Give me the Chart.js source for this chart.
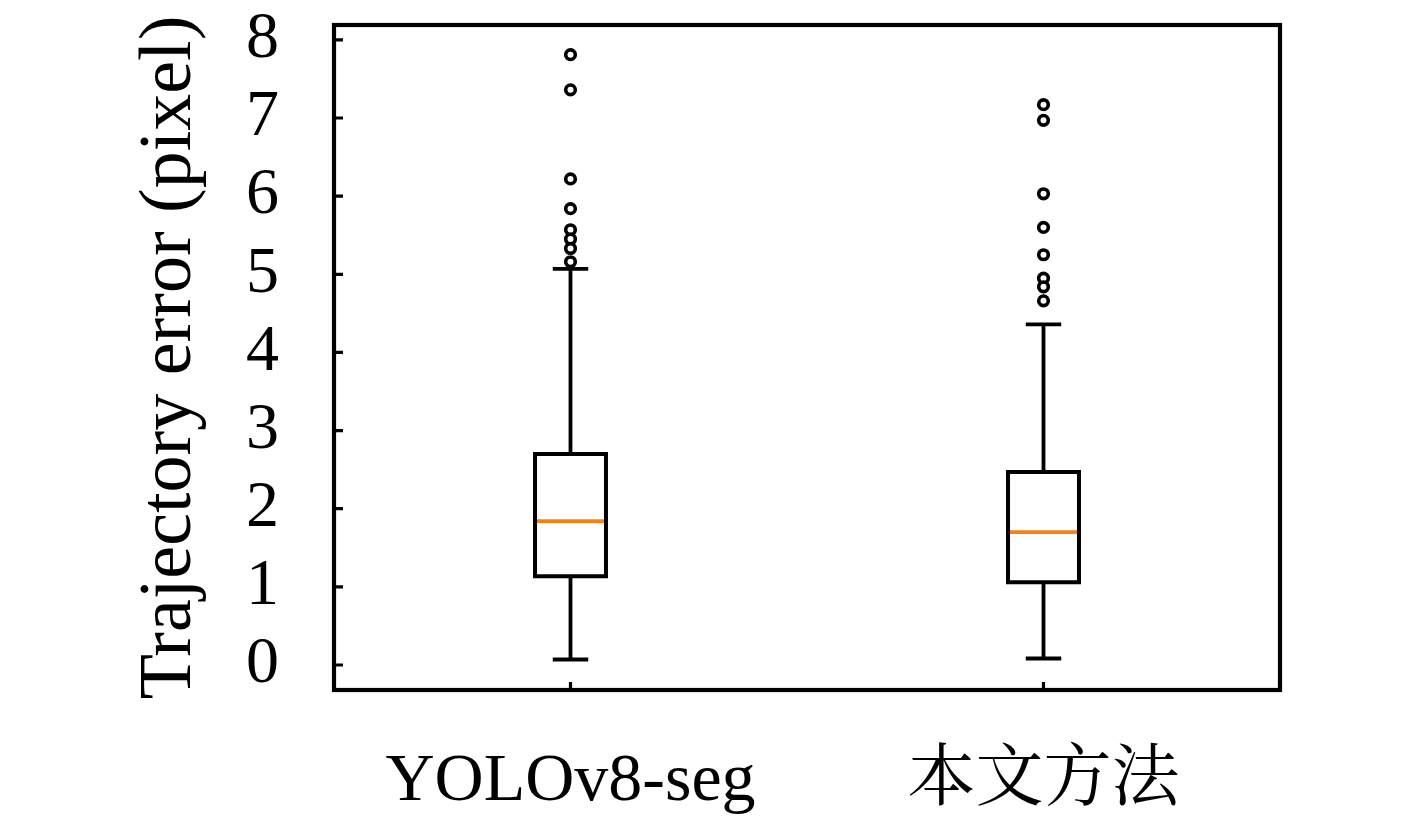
<!DOCTYPE html>
<html><head><meta charset="utf-8">
<script src="https://cdn.jsdelivr.net/npm/chart.js@4.4.0/dist/chart.umd.min.js"></script>
<style>html,body{margin:0;padding:0;background:#fff;} #wrap{width:1417px;height:817px;position:relative;}</style>
</head><body><div id="wrap"><canvas id="c"></canvas></div>
<script>
const categories = ['YOLOv8-seg', '本文方法'];
const whiskerLow = [0.07, 0.083];
const q1 = [1.135, 1.06];
const median = [1.84, 1.70];
const q3 = [2.70, 2.47];
const whiskerHigh = [5.07, 4.36];
const outliersYolo = [7.81, 7.36, 6.22, 5.84, 5.57, 5.45, 5.33, 5.16];
const outliersOurs = [7.17, 6.97, 6.03, 5.60, 5.25, 4.95, 4.84, 4.66];
const outliers = [outliersYolo, outliersOurs];
const yTicks = [0, 1, 2, 3, 4, 5, 6, 7, 8];
const yTitle = 'Trajectory error (pixel)';

const BOX_HALF = 0.075, CAP_HALF = 0.0375;
const serif = "'Liberation Serif', 'Noto Serif CJK SC', 'Noto Sans CJK SC', serif";

function lineDs(points, color, width) {
  return { type: 'scatter', data: points, showLine: true, borderColor: color, borderWidth: width,
    pointRadius: 0, pointHoverRadius: 0, tension: 0, fill: false,
    borderJoinStyle: 'miter', borderCapStyle: 'butt' };
}
const datasets = [];
categories.forEach((c, i) => {
  const p = i + 1;
  datasets.push(lineDs([{x:p, y:whiskerLow[i]}, {x:p, y:q1[i]}], '#000', 3.8));
  datasets.push(lineDs([{x:p, y:q3[i]}, {x:p, y:whiskerHigh[i]}], '#000', 3.8));
  datasets.push(lineDs([{x:p-CAP_HALF, y:whiskerLow[i]}, {x:p+CAP_HALF, y:whiskerLow[i]}], '#000', 3.8));
  datasets.push(lineDs([{x:p-CAP_HALF, y:whiskerHigh[i]}, {x:p+CAP_HALF, y:whiskerHigh[i]}], '#000', 3.8));
  datasets.push(lineDs([
    {x:p-BOX_HALF, y:q1[i]}, {x:p+BOX_HALF, y:q1[i]}, {x:p+BOX_HALF, y:q3[i]},
    {x:p-BOX_HALF, y:q3[i]}, {x:p-BOX_HALF, y:q1[i]}, {x:p+BOX_HALF, y:q1[i]}], '#000', 4));
  datasets.push(lineDs([{x:p-BOX_HALF, y:median[i]}, {x:p+BOX_HALF, y:median[i]}], '#ff7f0e', 3.8));
  datasets.push({ type: 'scatter', data: outliers[i].map(v => ({x:p, y:v})), showLine: false,
    pointStyle: 'circle', pointRadius: 4.8, pointBorderWidth: 3.6, pointBackgroundColor: '#fff',
    pointBorderColor: '#000', pointHoverRadius: 4.8 });
});

const frame = {
  id: 'frame',
  afterDraw(chart) {
    const { ctx, chartArea: a, scales: { x, y } } = chart;
    ctx.save();
    ctx.strokeStyle = '#000';
    ctx.lineWidth = 3.2;
    ctx.beginPath();
    y.ticks.forEach(t => { const py = y.getPixelForValue(t.value); ctx.moveTo(a.left, py); ctx.lineTo(a.left + 9, py); });
    x.ticks.forEach(t => { const px = x.getPixelForValue(t.value); ctx.moveTo(px, a.bottom); ctx.lineTo(px, a.bottom - 8); });
    ctx.stroke();
    ctx.lineWidth = 4.2;
    ctx.strokeRect(a.left, a.top, a.right - a.left, a.bottom - a.top);
    ctx.restore();
  }
};

new Chart(document.getElementById('c'), {
  type: 'scatter',
  data: { datasets },
  plugins: [frame],
  options: {
    responsive: true, maintainAspectRatio: false, animation: false,
    layout: { padding: { top: 25, right: 137, left: 0, bottom: 0 } },
    plugins: { legend: { display: false }, tooltip: { enabled: false } },
    scales: {
      x: {
        type: 'linear', min: 0.5, max: 2.5,
        afterBuildTicks: s => { s.ticks = categories.map((c, i) => ({ value: i + 1 })); },
        ticks: { autoSkip: false, maxRotation: 0, padding: 43, color: '#000',
          font: { family: serif, size: 68 },
          callback: v => categories[Math.round(v) - 1] },
        grid: { display: false }, border: { display: false },
        afterFit: s => { s.height = 127; s.paddingLeft = 0; s.paddingRight = 0; }
      },
      y: {
        type: 'linear', min: -0.32, max: 8.19,
        afterBuildTicks: s => { s.ticks = yTicks.map(v => ({ value: v })); },
        ticks: { padding: 47, color: '#000', font: { family: serif, size: 66 } },
        grid: { display: false }, border: { display: false },
        title: { display: true, text: yTitle, color: '#000', padding: { top: 126, bottom: 0 },
          font: { family: serif, size: 74 } },
        afterFit: s => { s.width = 334; s.paddingTop = 0; s.paddingBottom = 0; }
      }
    }
  }
});
</script></body></html>
